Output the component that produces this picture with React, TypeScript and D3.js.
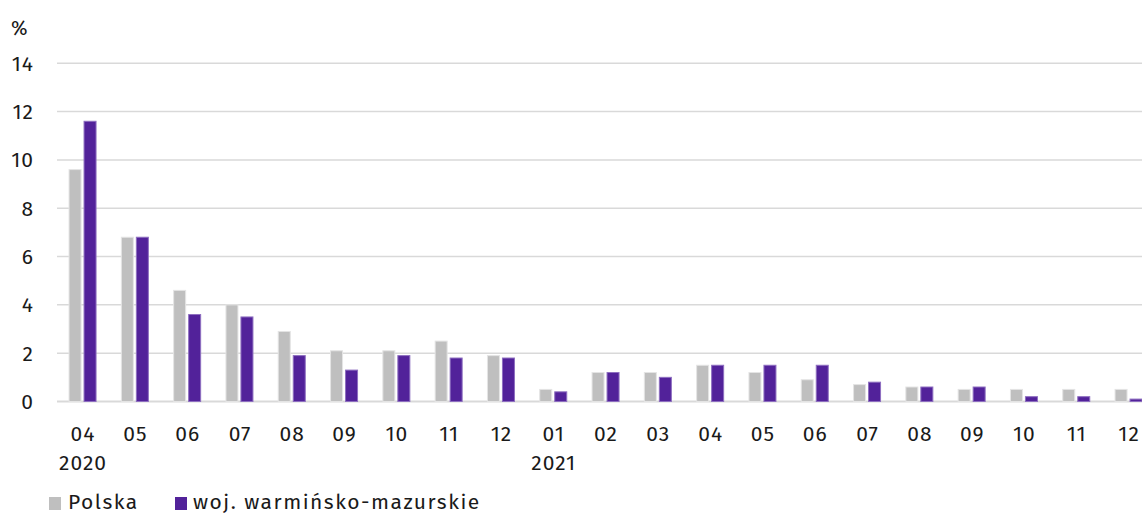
import React from "react";
import * as d3 from "d3";

const months = ["04","05","06","07","08","09","10","11","12","01","02","03","04","05","06","07","08","09","10","11","12"];
const years: Record<number,string> = { 0: "2020", 9: "2021" };
const polska = [9.6,6.8,4.6,4.0,2.9,2.1,2.1,2.5,1.9,0.5,1.2,1.2,1.5,1.2,0.9,0.7,0.6,0.5,0.5,0.5,0.5];
const woj = [11.6,6.8,3.6,3.5,1.9,1.3,1.9,1.8,1.8,0.4,1.2,1.0,1.5,1.5,1.5,0.8,0.6,0.6,0.2,0.2,0.1];
const yTicks = [0,2,4,6,8,10,12,14];
const seriesNames = ["Polska","woj. warmińsko-mazurskie"];

const W = 1142, H = 514;
const GRAY = "#bfbfbf", PURPLE = "#52229a";
const FONT = "'Fira Sans', 'Open Sans', 'Noto Sans', sans-serif";
const TXT = "#1a1a1a";

export default function App() {
  const idx = months.map((_, i) => i);
  const x = d3.scaleBand<number>().domain(idx).range([56.4, 56.4 + 21 * 52.3]).paddingInner(0).paddingOuter(0);
  const y = d3.scaleLinear().domain([0, 14]).range([401.5, 63.3]);
  const barW = 12;
  const gap = 3;
  return (
    <svg width={W} height={H} style={{ position: "absolute", left: 0, top: 0, background: "#fff" }} fontFamily={FONT}>
      {yTicks.map(t => (
        <g key={t}>
          <line x1={57} x2={W} y1={y(t)} y2={y(t)} stroke="#d9d9d9" strokeWidth={t === 0 ? 2 : 1.5} />
          <text x={34} y={y(t)} dy="0.36em" textAnchor="end" fontSize={21} letterSpacing={1} fill={TXT}>{t}</text>
        </g>
      ))}
      <text x={11} y={28} dy="0.36em" fontSize={20} fill={TXT}>%</text>
      {idx.map(i => {
        const c = (x(i) as number) + x.bandwidth() / 2;
        return (
          <g key={i}>
            <rect x={c - gap / 2 - barW} y={y(polska[i])} width={barW} height={y(0) - y(polska[i])} fill={GRAY} stroke="#e4e4e4" strokeWidth={1} />
            <rect x={c + gap / 2} y={y(woj[i])} width={barW} height={y(0) - y(woj[i])} fill={PURPLE} stroke="#8e6fc0" strokeWidth={1} />
            <text x={c + 0.5} y={441} textAnchor="middle" fontSize={21} letterSpacing={1} fill={TXT}>{months[i]}</text>
            {years[i] && <text x={c + 0.5} y={470} textAnchor="middle" fontSize={21} letterSpacing={1} fill={TXT}>{years[i]}</text>}
          </g>
        );
      })}
      <g>
        <rect x={49} y={497} width={12} height={13} fill={GRAY} />
        <text x={68} y={509} fontSize={21} letterSpacing={1.5} fill={TXT}>{seriesNames[0]}</text>
        <rect x={175} y={497} width={12} height={13} fill={PURPLE} />
        <text x={193} y={509} fontSize={21} letterSpacing={1.5} fill={TXT}>{seriesNames[1]}</text>
      </g>
    </svg>
  );
}
